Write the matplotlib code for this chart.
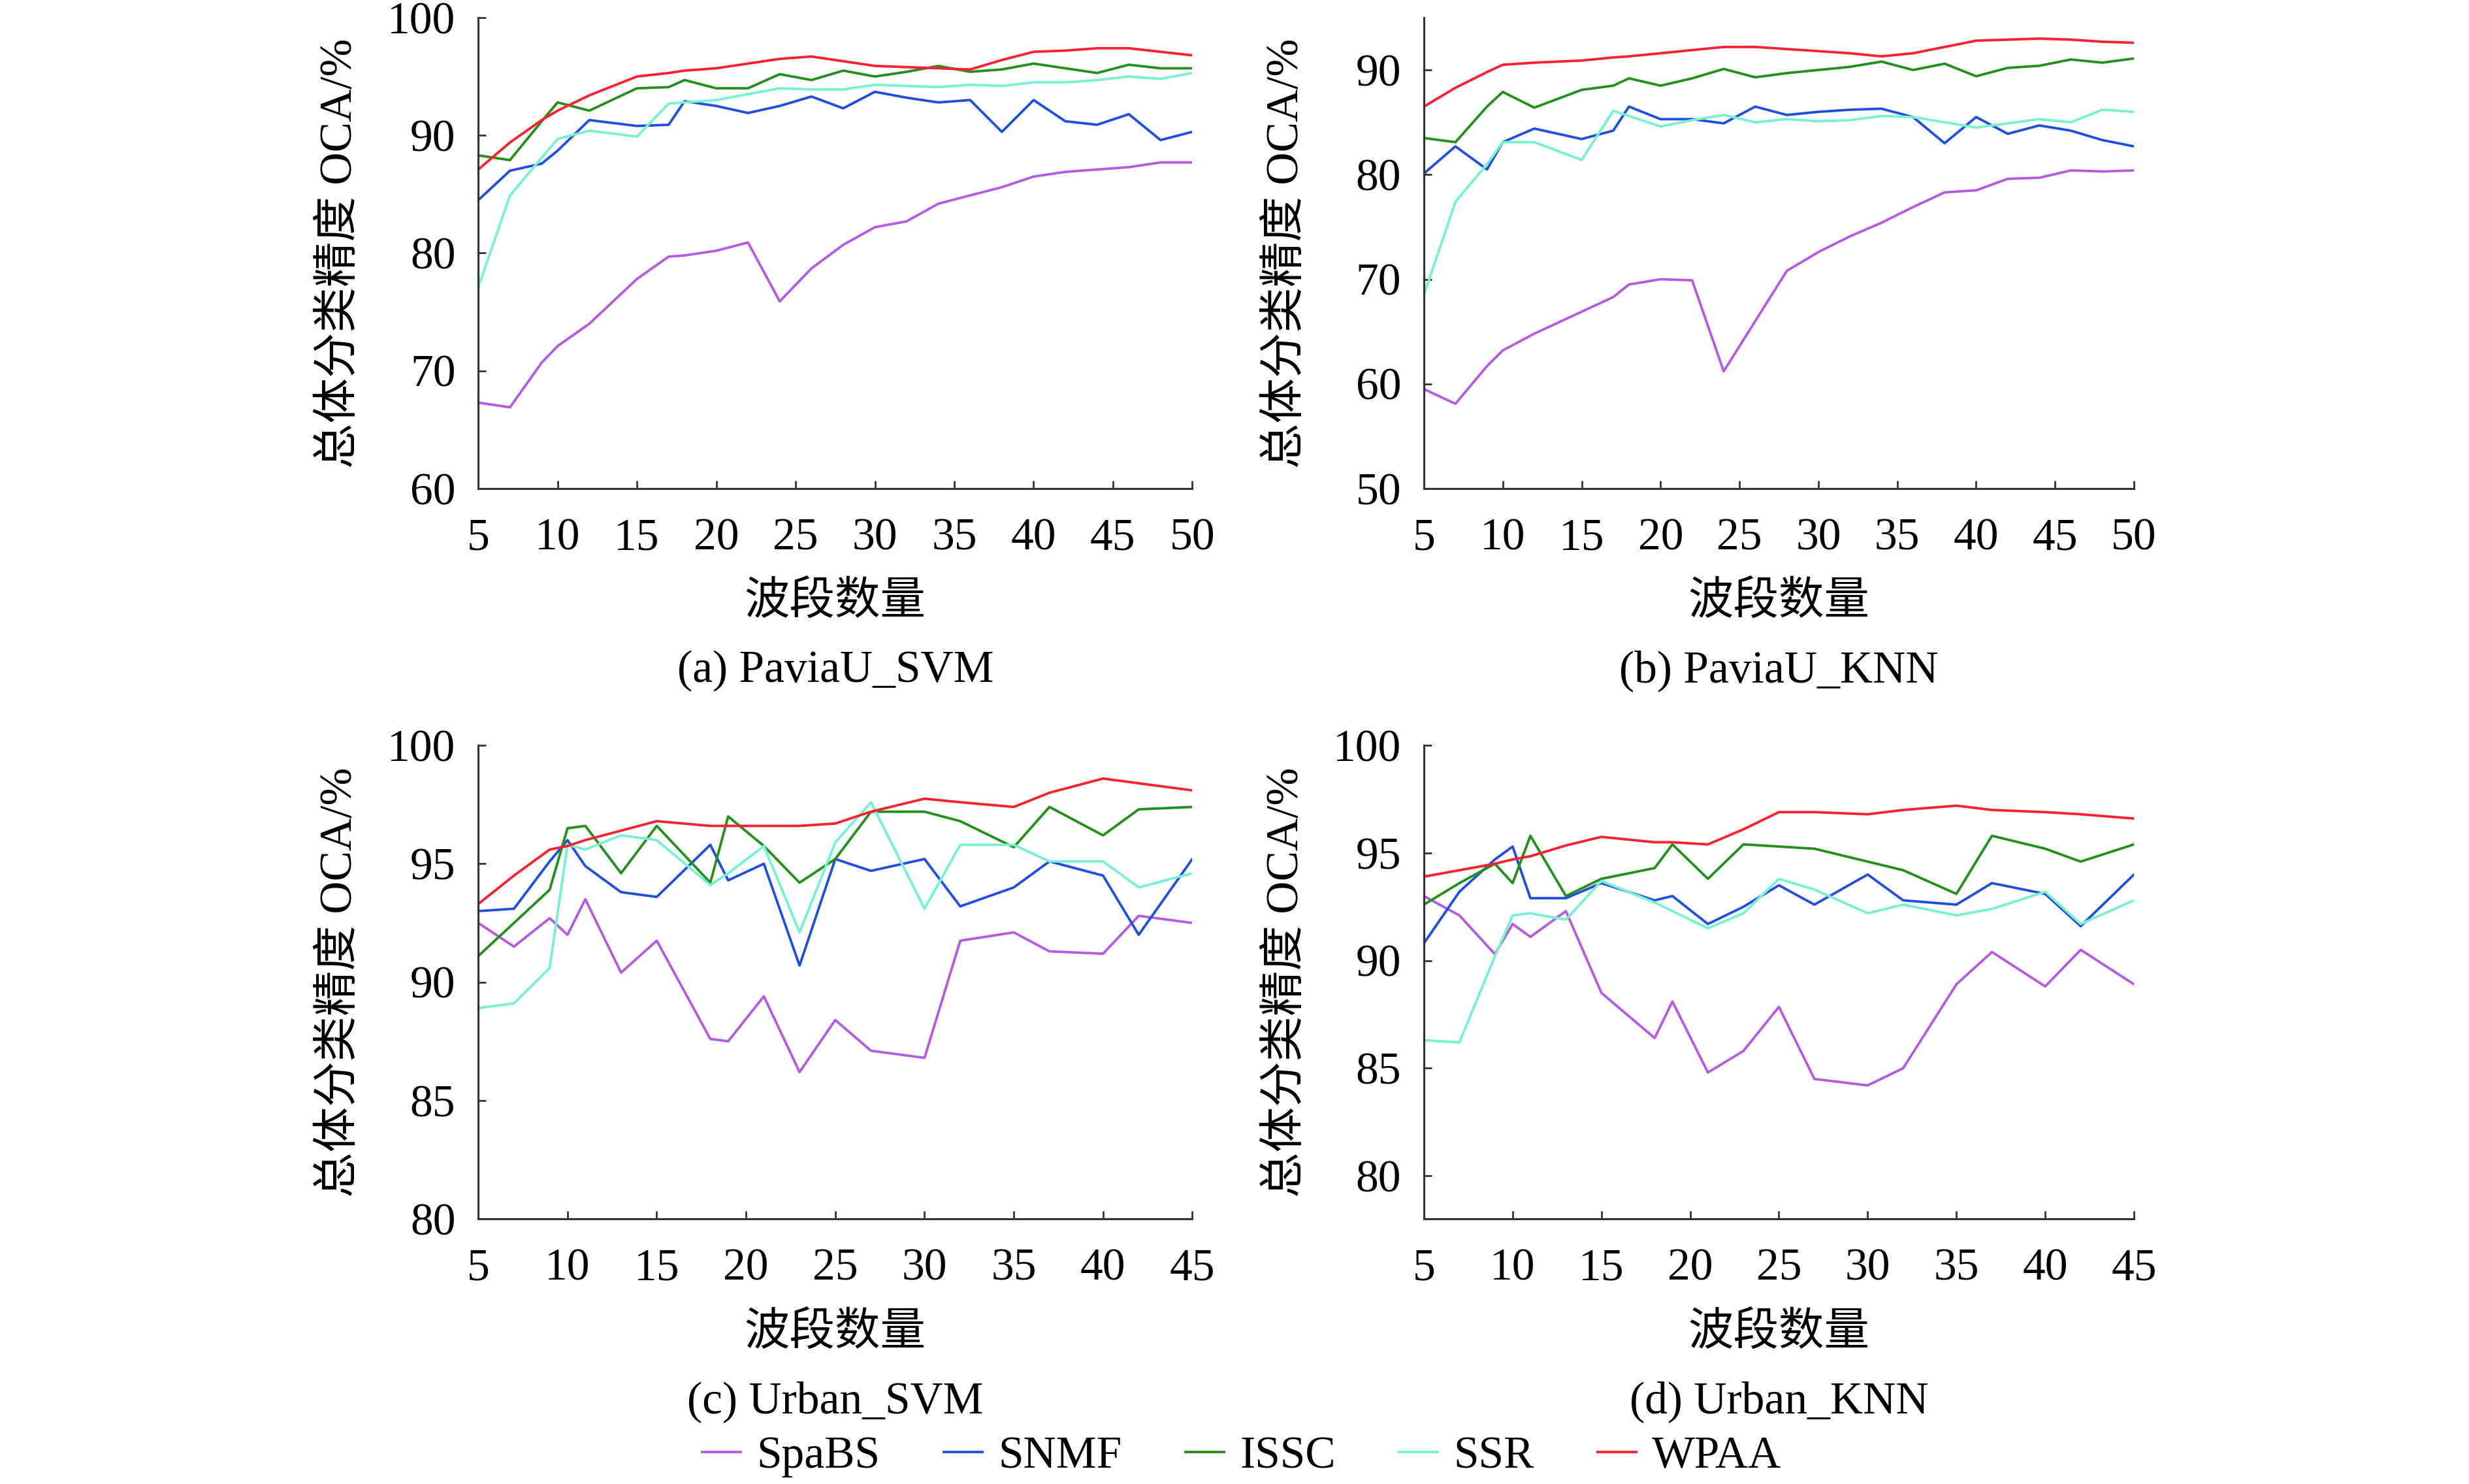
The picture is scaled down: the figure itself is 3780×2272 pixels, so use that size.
import numpy as np
import matplotlib
matplotlib.use("Agg")
import matplotlib.pyplot as plt

plt.rcParams['font.family'] = ['Liberation Serif', 'Noto Sans CJK SC']
plt.rcParams['axes.unicode_minus'] = False

methods = ["SpaBS", "SNMF", "ISSC", "SSR", "WPAA"]
colors = ["#b65ae0", "#1f4fdc", "#23901c", "#78f0d2", "#ff2030"]

# PaviaU band numbers
x_pavia = [5, 7, 9, 10, 12, 15, 17, 18, 20, 22, 24, 26, 28, 30, 32, 34, 36, 38, 40, 42, 44, 46, 48, 50]

svm_pavia_spabs = [67.3, 66.9, 70.7, 72.1, 74.0, 77.8, 79.7, 79.8, 80.2, 80.9, 75.9, 78.7, 80.7, 82.2,
                   82.7, 84.2, 84.9, 85.6, 86.5, 86.9, 87.1, 87.3, 87.7, 87.7]
svm_pavia_snmf = [84.5, 87.0, 87.6, 88.7, 91.3, 90.8, 90.9, 92.9, 92.5, 91.9, 92.5, 93.3, 92.3, 93.7,
                  93.2, 92.8, 93.0, 90.3, 93.0, 91.2, 90.9, 91.8, 89.6, 90.3]
svm_pavia_issc = [88.3, 87.9, 91.2, 92.8, 92.1, 94.0, 94.1, 94.7, 94.0, 94.0, 95.2, 94.7, 95.5, 95.0,
                  95.4, 95.9, 95.4, 95.6, 96.1, 95.7, 95.3, 96.0, 95.7, 95.7]
svm_pavia_ssr = [77.1, 84.9, 88.1, 89.7, 90.4, 89.9, 92.7, 92.8, 93.0, 93.5, 94.0, 93.9, 93.9, 94.3,
                 94.2, 94.1, 94.3, 94.2, 94.5, 94.5, 94.7, 95.0, 94.8, 95.3]
svm_pavia_wpaa = [87.1, 89.4, 91.3, 92.1, 93.4, 95.0, 95.3, 95.5, 95.7, 96.1, 96.5, 96.7, 96.3, 95.9,
                  95.8, 95.7, 95.6, 96.4, 97.1, 97.2, 97.4, 97.4, 97.1, 96.8]

knn_pavia_spabs = [59.5, 58.1, 61.7, 63.2, 64.8, 66.9, 68.3, 69.5, 70.0, 69.9, 61.2, 66.0, 70.8, 72.6,
                   74.1, 75.4, 76.9, 78.3, 78.5, 79.6, 79.7, 80.4, 80.3, 80.4]
knn_pavia_snmf = [80.1, 82.7, 80.5, 83.1, 84.4, 83.4, 84.2, 86.5, 85.3, 85.3, 84.9, 86.5, 85.7, 86.0,
                  86.2, 86.3, 85.5, 83.0, 85.5, 83.9, 84.7, 84.2, 83.3, 82.7]
knn_pavia_issc = [83.5, 83.1, 86.5, 87.9, 86.4, 88.1, 88.5, 89.2, 88.5, 89.2, 90.1, 89.3, 89.7, 90.0,
                  90.3, 90.8, 90.0, 90.6, 89.4, 90.2, 90.4, 91.0, 90.7, 91.1]
knn_pavia_ssr = [68.5, 77.4, 81.0, 83.1, 83.1, 81.4, 86.1, 85.6, 84.6, 85.2, 85.7, 85.0, 85.3, 85.1,
                 85.2, 85.6, 85.5, 85.0, 84.5, 84.9, 85.3, 85.0, 86.2, 86.0]
knn_pavia_wpaa = [86.5, 88.3, 89.8, 90.5, 90.7, 90.9, 91.2, 91.3, 91.6, 91.9, 92.2, 92.2, 92.0, 91.8,
                  91.6, 91.3, 91.6, 92.2, 92.8, 92.9, 93.0, 92.9, 92.7, 92.6]

# Urban band numbers
x_urban = [5, 7, 9, 10, 11, 13, 15, 18, 19, 21, 23, 25, 27, 30, 32, 35, 37, 40, 42, 45]

svm_urban_spabs = [92.5, 91.5, 92.7, 92.0, 93.5, 90.4, 91.75, 87.6, 87.5, 89.4, 86.2, 88.4, 87.1, 86.8,
                   91.75, 92.1, 91.3, 91.2, 92.8, 92.5]
svm_urban_snmf = [93.0, 93.1, 95.1, 96.0, 94.9, 93.8, 93.6, 95.8, 94.3, 95.0, 90.7, 95.2, 94.7, 95.2,
                  93.2, 94.0, 95.1, 94.5, 92.0, 95.2]
svm_urban_issc = [91.1, 92.5, 93.9, 96.5, 96.6, 94.6, 96.6, 94.2, 97.0, 95.75, 94.2, 95.2, 97.2, 97.2,
                  96.8, 95.7, 97.4, 96.2, 97.3, 97.4]
svm_urban_ssr = [88.9, 89.1, 90.6, 95.8, 95.6, 96.2, 96.0, 94.1, 94.6, 95.75, 92.1, 95.9, 97.6, 93.1,
                 95.8, 95.8, 95.1, 95.1, 94.0, 94.6]
svm_urban_wpaa = [93.3, 94.5, 95.6, 95.75, 96.0, 96.4, 96.8, 96.6, 96.6, 96.6, 96.6, 96.7, 97.2, 97.75,
                  97.6, 97.4, 98.0, 98.6, 98.4, 98.1]

knn_urban_spabs = [93.0, 92.1, 90.3, 91.7, 91.1, 92.3, 88.5, 86.4, 88.1, 84.8, 85.8, 87.85, 84.5, 84.2,
                   85.0, 88.9, 90.4, 88.8, 90.5, 88.9]
knn_urban_snmf = [90.8, 93.2, 94.7, 95.3, 92.9, 92.9, 93.6, 92.8, 93.0, 91.7, 92.5, 93.5, 92.6, 94.0,
                  92.8, 92.6, 93.6, 93.1, 91.6, 94.0]
knn_urban_issc = [92.6, 93.6, 94.5, 93.6, 95.8, 93.0, 93.8, 94.3, 95.4, 93.8, 95.4, 95.3, 95.2, 94.6,
                  94.2, 93.1, 95.8, 95.2, 94.6, 95.4]
knn_urban_ssr = [86.3, 86.2, 90.2, 92.1, 92.2, 91.9, 93.7, 92.7, 92.3, 91.5, 92.2, 93.8, 93.3, 92.2,
                 92.6, 92.1, 92.4, 93.2, 91.7, 92.8]
knn_urban_wpaa = [93.9, 94.2, 94.5, 94.7, 94.85, 95.35, 95.75, 95.5, 95.5, 95.4, 96.1, 96.9, 96.9, 96.8,
                  97.0, 97.2, 97.0, 96.9, 96.8, 96.6]

panels = [
    dict(title="(a) PaviaU_SVM", x=x_pavia,
         ys=[svm_pavia_spabs, svm_pavia_snmf, svm_pavia_issc, svm_pavia_ssr, svm_pavia_wpaa],
         xlim=(5, 50), xticks=range(5, 51, 5), ylim=(60, 100), yticks=[60, 70, 80, 90, 100],
         pos=[0.1937, 0.6708, 0.2892, 0.3173]),
    dict(title="(b) PaviaU_KNN", x=x_pavia,
         ys=[knn_pavia_spabs, knn_pavia_snmf, knn_pavia_issc, knn_pavia_ssr, knn_pavia_wpaa],
         xlim=(5, 50), xticks=range(5, 51, 5), ylim=(50, 95), yticks=[50, 60, 70, 80, 90],
         pos=[0.5767, 0.6708, 0.2876, 0.3173]),
    dict(title="(c) Urban_SVM", x=x_urban,
         ys=[svm_urban_spabs, svm_urban_snmf, svm_urban_issc, svm_urban_ssr, svm_urban_wpaa],
         xlim=(5, 45), xticks=range(5, 46, 5), ylim=(80, 100), yticks=[80, 85, 90, 95, 100],
         pos=[0.1937, 0.1787, 0.2892, 0.319]),
    dict(title="(d) Urban_KNN", x=x_urban,
         ys=[knn_urban_spabs, knn_urban_snmf, knn_urban_issc, knn_urban_ssr, knn_urban_wpaa],
         xlim=(5, 45), xticks=range(5, 46, 5), ylim=(78, 100), yticks=[80, 85, 90, 95, 100],
         pos=[0.5767, 0.1787, 0.2876, 0.319]),
]

fig = plt.figure(figsize=(15.12, 9.088), dpi=250)
fs = 20

handles = []
for p in panels:
    ax = fig.add_axes(p["pos"])
    for name, c, y in zip(methods, colors, p["ys"]):
        h, = ax.plot(p["x"], y, color=c, lw=1.1, label=name)
        if len(handles) < len(methods):
            handles.append(h)
    ax.set_xlim(*p["xlim"])
    ax.set_ylim(*p["ylim"])
    ax.set_xticks(list(p["xticks"]))
    ax.set_yticks(p["yticks"])
    for s in ["top", "right"]:
        ax.spines[s].set_visible(False)
    for s in ["left", "bottom"]:
        ax.spines[s].set_color("#333333")
        ax.spines[s].set_linewidth(0.9)
    ax.tick_params(direction="in", length=3.5, width=0.8, labelsize=fs, color="#333333")
    ax.tick_params(axis="x", pad=13)
    ax.tick_params(axis="y", pad=10)
    ax.text(-0.193, 0.5, "总体分类精度 OCA/%", transform=ax.transAxes, rotation=90,
            ha="center", va="center", fontsize=fs)
    ax.text(0.5, -0.243, "波段数量", transform=ax.transAxes, ha="center", va="center", fontsize=fs)
    ax.text(0.5, -0.387, p["title"], transform=ax.transAxes, ha="center", va="center", fontsize=fs)

fig.legend(handles, methods, loc="lower center", bbox_to_anchor=(0.503, -0.014), ncol=5,
           frameon=False, fontsize=fs, handlelength=0.85, handletextpad=0.35, columnspacing=1.4,
           borderpad=0.1)

fig.savefig("out.png", dpi=250, facecolor="white")
